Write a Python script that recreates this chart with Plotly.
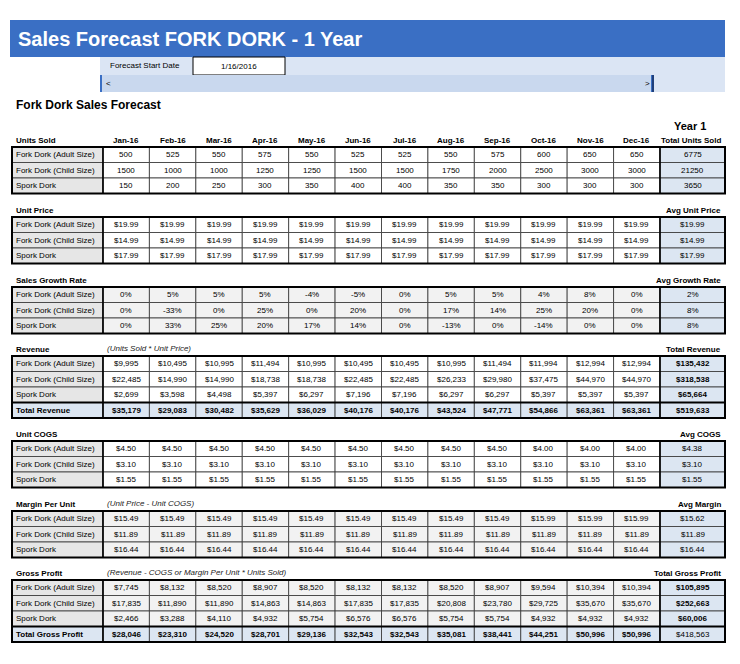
import plotly.graph_objects as go

months = ["Jan-16", "Feb-16", "Mar-16", "Apr-16", "May-16", "Jun-16",
          "Jul-16", "Aug-16", "Sep-16", "Oct-16", "Nov-16", "Dec-16"]
products = ["Fork Dork (Adult Size)", "Fork Dork (Child Size)", "Spork Dork"]

units_sold = [
    [500, 525, 550, 575, 550, 525, 525, 550, 575, 600, 650, 650],
    [1500, 1000, 1000, 1250, 1250, 1500, 1500, 1750, 2000, 2500, 3000, 3000],
    [150, 200, 250, 300, 350, 400, 400, 350, 350, 300, 300, 300],
]
units_total = [6775, 21250, 3650]

unit_price = [[19.99] * 12, [14.99] * 12, [17.99] * 12]
price_avg = [19.99, 14.99, 17.99]

growth = [
    [0, 5, 5, 5, -4, -5, 0, 5, 5, 4, 8, 0],
    [0, -33, 0, 25, 0, 20, 0, 17, 14, 25, 20, 0],
    [0, 33, 25, 20, 17, 14, 0, -13, 0, -14, 0, 0],
]
growth_avg = [2, 8, 8]

revenue = [
    [9995, 10495, 10995, 11494, 10995, 10495, 10495, 10995, 11494, 11994, 12994, 12994],
    [22485, 14990, 14990, 18738, 18738, 22485, 22485, 26233, 29980, 37475, 44970, 44970],
    [2699, 3598, 4498, 5397, 6297, 7196, 7196, 6297, 6297, 5397, 5397, 5397],
]
revenue_total = [135432, 318538, 65664]
revenue_month_total = [35179, 29083, 30482, 35629, 36029, 40176, 40176, 43524, 47771, 54866, 63361, 63361]
revenue_grand = 519633

unit_cogs = [
    [4.50] * 9 + [4.00] * 3,
    [3.10] * 12,
    [1.55] * 12,
]
cogs_avg = [4.38, 3.10, 1.55]

margin = [
    [15.49] * 9 + [15.99] * 3,
    [11.89] * 12,
    [16.44] * 12,
]
margin_avg = [15.62, 11.89, 16.44]

gross_profit = [
    [7745, 8132, 8520, 8907, 8520, 8132, 8132, 8520, 8907, 9594, 10394, 10394],
    [17835, 11890, 11890, 14863, 14863, 17835, 17835, 20808, 23780, 29725, 35670, 35670],
    [2466, 3288, 4110, 4932, 5754, 6576, 6576, 5754, 5754, 4932, 4932, 4932],
]
gross_total = [105895, 252663, 60006]
gross_month_total = [28046, 23310, 24520, 28701, 29136, 32543, 32543, 35081, 38441, 44251, 50996, 50996]
gross_grand = 418563

FONT = "Liberation Sans, Arial, sans-serif"
W, H = 740, 664
OFF = 8  # page body margin
X0, XL, XT, X1 = 12, 103, 660, 725
CW = (XT - XL) / 12
RH = 15.5
BLUE_CELL = "#dce6f2"
GRAY = "#e6e6e6"
LIGHT = "#f2f2f2"

shapes = []
ann = []


def text(x, y, s, size=8, bold=False, anchor="center", color="black", italic=False):
    if bold:
        s = "<b>" + s + "</b>"
    if italic:
        s = "<i>" + s + "</i>"
    ann.append(dict(x=x, y=y, text=s, showarrow=False, xanchor=anchor, yanchor="middle",
                    font=dict(family=FONT, size=size, color=color)))


def rect(x0, y0, x1, y1, fill, lw=0.8, lc="#333333"):
    shapes.append(dict(type="rect", x0=x0, y0=y0, x1=x1, y1=y1, fillcolor=fill,
                       line=dict(width=lw, color=lc), layer="below"))


money0 = lambda v: "${:,.0f}".format(v)
money2 = lambda v: "${:,.2f}".format(v)
pct = lambda v: "{}%".format(v)
plain = lambda v: str(v)

sections = [
    ("Units Sold", "", units_sold, units_total, None, None, plain, "white", 140, False, "Total Units Sold"),
    ("Unit Price", "", unit_price, price_avg, None, None, money2, "white", 210, False, "Avg Unit Price"),
    ("Sales Growth Rate", "", growth, growth_avg, None, None, pct, LIGHT, 280, False, "Avg Growth Rate"),
    ("Revenue", "(Units Sold * Unit Price)", revenue, revenue_total, revenue_month_total,
     revenue_grand, money0, "white", 349, True, "Total Revenue"),
    ("Unit COGS", "", unit_cogs, cogs_avg, None, None, money2, "white", 434, False, "Avg COGS"),
    ("Margin Per Unit", "(Unit Price - Unit COGS)", margin, margin_avg, None, None, money2, LIGHT, 504, False, "Avg Margin"),
    ("Gross Profit", "(Revenue - COGS or Margin Per Unit * Units Sold)", gross_profit, gross_total,
     gross_month_total, gross_grand, money0, LIGHT, 573, True, "Total Gross Profit"),
]

for title, note, rows, totals, mtot, grand, fmt, cell_fill, hy, bold_tot, tot_label in sections:
    text(X0 + 2, hy, title, size=8, bold=True, anchor="left")
    if note:
        text(XL + 2, hy - 1, note, size=8, italic=True, anchor="left", color="#222222")
    text(X1 - 2, hy, tot_label, size=8, bold=True, anchor="right")
    if title == "Units Sold":
        for j, m in enumerate(months):
            text(XL + CW * (j + 0.5), hy, m, size=8, bold=True)
    top = hy + 7
    all_rows = list(zip(products, rows, totals))
    if mtot is not None:
        all_rows.append(("Total " + title, mtot, grand))
    for i, (name, vals, tot) in enumerate(all_rows):
        y0 = top + i * RH
        y1 = y0 + RH
        yc = (y0 + y1) / 2
        is_total = i == 3
        rect(X0, y0, XL, y1, BLUE_CELL if is_total else GRAY)
        text(X0 + 2, yc, name, size=8, bold=is_total, anchor="left")
        for j, v in enumerate(vals):
            rect(XL + CW * j, y0, XL + CW * (j + 1), y1, BLUE_CELL if is_total else cell_fill)
            text(XL + CW * (j + 0.5), yc, fmt(v), size=8, bold=is_total)
        rect(XT, y0, X1, y1, BLUE_CELL)
        text((XT + X1) / 2, yc, fmt(tot), size=8,
             bold=(bold_tot and not is_total) or (is_total and title == "Revenue"))
        if is_total:
            shapes.append(dict(type="line", x0=X0, x1=X1, y0=y0, y1=y0, line=dict(width=2, color="black")))
    bottom = top + len(all_rows) * RH
    shapes.append(dict(type="rect", x0=X0, y0=top, x1=X1, y1=bottom, line=dict(width=2, color="black")))
    shapes.append(dict(type="line", x0=XL, x1=XL, y0=top, y1=bottom, line=dict(width=1.6, color="black")))
    shapes.append(dict(type="line", x0=XT, x1=XT, y0=top, y1=bottom, line=dict(width=1.6, color="black")))

# header band
rect(10, 20, 725, 57, "#3a6fc4", lw=0)
text(16, 38.5, "Sales Forecast FORK DORK - 1 Year", size=20, bold=True, anchor="left", color="white")
rect(100, 57, 725, 75, "#dbe5f4", lw=0)
text(108, 65.5, "Forecast Start Date", size=8, anchor="left")
rect(193, 57, 285, 75, "white", lw=1, lc="black")
text(239, 66, "1/16/2016", size=8)
rect(100, 75, 653, 92, "#3a6fc4", lw=0)
rect(102, 75, 651, 92, "#c9d8ee", lw=0)
text(108, 83, "<", size=8)
text(647, 83, ">", size=8)
shapes.append(dict(type="line", x0=653, x1=653, y0=75, y1=92, line=dict(width=2, color="#1f3f7a")))
rect(653, 75, 725, 92, "#dbe5f4", lw=0)
text(14, 105, "Fork Dork Sales Forecast", size=12, bold=True, anchor="left")
text(690, 126, "Year 1", size=11, bold=True)

fig = go.Figure()
fig.update_layout(
    width=W, height=H, margin=dict(l=0, r=0, t=0, b=0),
    paper_bgcolor="white", plot_bgcolor="white",
    xaxis=dict(range=[OFF, W + OFF], visible=False, fixedrange=True),
    yaxis=dict(range=[H + OFF, OFF], visible=False, fixedrange=True),
    shapes=shapes, annotations=ann, showlegend=False,
)
fig.write_html("out.html", config={"displayModeBar": False})
